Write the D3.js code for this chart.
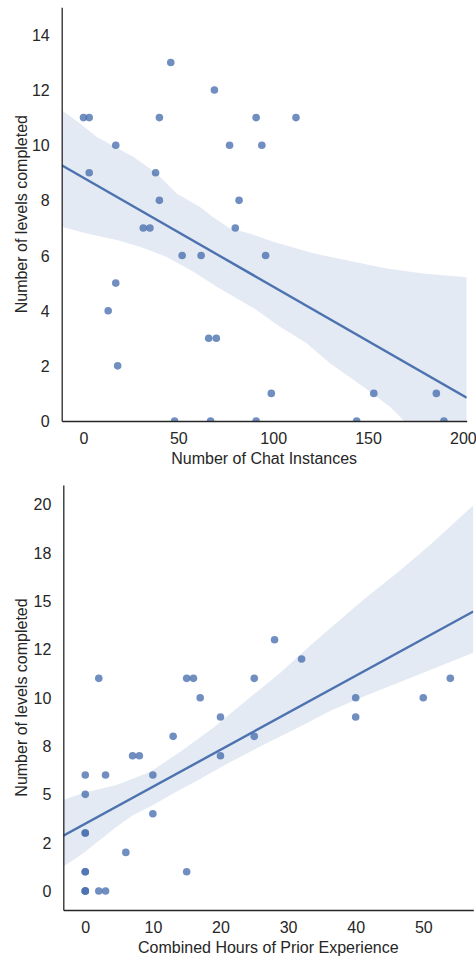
<!DOCTYPE html>
<html>
<head>
<meta charset="utf-8">
<script src="https://cdn.jsdelivr.net/npm/d3@7"></script>
<style>
  html, body { margin: 0; padding: 0; background: #fff; }
  svg { display: block; }
  text { font-family: "Liberation Sans", Arial, sans-serif; fill: #262626; }
</style>
</head>
<body>
<svg id="chart" width="476" height="958"></svg>
<script>
// ---------- DATA ----------
// Panel 1: Number of Chat Instances vs levels completed
const chatInstances = [0, 3, 46, 69, 40, 17, 77, 3, 38, 40, 82, 91, 112, 94, 31.5, 35, 80, 52, 62, 96, 17, 13, 18, 66, 70, 99, 153, 186, 48, 67, 91, 144, 190];
const levelsChat    = [11, 11, 13, 12, 11, 10, 10, 9, 9, 8, 8, 11, 11, 10, 7, 7, 7, 6, 6, 6, 5, 4, 2, 3, 3, 1, 1, 1, 0, 0, 0, 0, 0];

// Panel 2: Combined Hours of Prior Experience vs levels completed
const priorHours     = [2, 15, 16, 25, 54, 28, 32, 17, 40, 50, 20, 40, 13, 25, 7, 8, 20, 0, 3, 10, 0, 10, 0, 0, 6, 0, 0, 15, 0, 0, 0, 2, 3];
const levelsPrior    = [11, 11, 11, 11, 11, 13, 12, 10, 10, 10, 9, 9, 8, 8, 7, 7, 7, 6, 6, 6, 5, 4, 3, 3, 2, 1, 1, 1, 0, 0, 0, 0, 0];

// Bootstrap confidence bands: [x, y]
const chatBandUpper = [[-11.5, 11.27], [-1.8, 10.79], [7.0, 10.30], [26.2, 9.58], [38.6, 8.97], [49.1, 8.25], [61.4, 7.76], [68.2, 7.40], [77.2, 6.98], [87.7, 6.80], [100, 6.50], [121.1, 6.08], [138.7, 5.83], [159.8, 5.53], [179.1, 5.35], [202, 5.21]];
const chatBandLower = [[-11.5, 7.04], [1.7, 6.80], [17.5, 6.56], [29.8, 6.32], [43.8, 5.95], [57.9, 5.41], [70.2, 4.87], [82.5, 4.38], [91.3, 4.02], [103.6, 3.42], [117.6, 2.82], [129.9, 2.09], [147.5, 1.24], [161.5, 0.52], [168.5, 0.04], [185, -1.0], [202, -2.1]];
const priorBandUpper = [[-3.25, 4.71], [-0.3, 5.07], [4.64, 5.48], [9.57, 6.16], [14.0, 7.19], [18.9, 8.43], [23.9, 9.88], [28.8, 11.28], [33.7, 12.83], [41.1, 15.05], [46.1, 16.45], [51.0, 17.90], [57.4, 19.95]];
const priorBandLower = [[-3.25, 1.26], [-0.3, 1.95], [2.17, 2.64], [4.64, 3.33], [7.10, 3.93], [9.57, 4.36], [13.0, 5.05], [17.0, 5.79], [20.9, 6.57], [26.3, 7.55], [31.3, 8.42], [36.2, 9.31], [41.1, 10.05], [46.1, 10.75], [51.0, 11.43], [57.4, 12.32]];

// Tick values / labels
const chatXTicks   = [0, 50, 100, 150, 200];
const chatYTicks   = [0, 2, 4, 6, 8, 10, 12, 14];
const priorXTicks  = [0, 10, 20, 30, 40, 50];
const priorYTicks  = [0, 2.5, 5, 7.5, 10, 12.5, 15, 17.5, 20];
const priorYLabels = ["0", "2", "5", "8", "10", "12", "15", "18", "20"];

const yTitle = "Number of levels completed";
const chatXTitle = "Number of Chat Instances";
const priorXTitle = "Combined Hours of Prior Experience";

// ---------- STYLE / LAYOUT ----------
const BLUE = "#4c72b0";
const INK = "#262626";
const svg = d3.select("#chart");

function linReg(xs, ys) {
  const mx = d3.mean(xs), my = d3.mean(ys);
  let sxy = 0, sxx = 0;
  xs.forEach((x, i) => { sxy += (x - mx) * (ys[i] - my); sxx += (x - mx) * (x - mx); });
  const b = sxy / sxx;
  return { b, a: my - b * mx };
}

function panel(cfg) {
  const { id, left, right, top, bottom, xDomain, yDomain, xs, ys, upper, lower,
          xTicks, yTicks, yLabels, xTitle } = cfg;
  const x = d3.scaleLinear().domain(xDomain).range([left, right]);
  const y = d3.scaleLinear().domain(yDomain).range([bottom, top]);
  const g = svg.append("g");

  g.append("clipPath").attr("id", id).append("rect")
    .attr("x", left).attr("y", top).attr("width", right - left).attr("height", bottom - top);

  const plot = g.append("g").attr("clip-path", `url(#${id})`);

  // scatter
  plot.selectAll("circle").data(xs.map((v, i) => [v, ys[i]])).join("circle")
    .attr("cx", d => x(d[0])).attr("cy", d => y(d[1])).attr("r", 3.8)
    .attr("fill", BLUE).attr("fill-opacity", 0.8);

  // CI band
  const poly = upper.concat(lower.slice().reverse());
  plot.append("path")
    .attr("d", d3.line().x(d => x(d[0])).y(d => y(d[1]))(poly) + "Z")
    .attr("fill", BLUE).attr("fill-opacity", 0.15).attr("stroke", "none");

  // regression line
  const { a, b } = linReg(xs, ys);
  plot.append("path")
    .attr("d", d3.line().x(d => x(d)).y(d => y(a + b * d))(xDomain))
    .attr("fill", "none").attr("stroke", BLUE).attr("stroke-width", 2.4);

  // axes
  const xAxis = d3.axisBottom(x).tickValues(xTicks).tickSize(0).tickPadding(0)
    .tickFormat(d3.format("d"));
  const gx = g.append("g").attr("transform", `translate(0,${bottom})`).call(xAxis);
  gx.select(".domain").attr("stroke", INK).attr("stroke-width", 1.3);
  gx.selectAll(".tick text").attr("y", 22.8).attr("dy", null)
    .style("font-size", "16px").attr("fill", INK);

  const yAxis = d3.axisLeft(y).tickValues(yTicks).tickSize(0).tickPadding(12)
    .tickFormat((d, i) => yLabels ? yLabels[i] : d3.format("d")(d));
  const gy = g.append("g").attr("transform", `translate(${left},0)`).call(yAxis);
  gy.select(".domain").attr("stroke", INK).attr("stroke-width", 1.3);
  gy.selectAll(".tick text").attr("dy", "0.35em")
    .style("font-size", "16px").attr("fill", INK);
  g.selectAll(".tick line").remove();

  // titles
  g.append("text").attr("x", (left + right) / 2).attr("y", bottom + 42.5)
    .attr("text-anchor", "middle").style("font-size", "16px").text(xTitle);
  g.append("text")
    .attr("transform", `translate(27,${(top + bottom) / 2}) rotate(-90)`)
    .attr("text-anchor", "middle").style("font-size", "16px").text(yTitle);
}

panel({
  id: "clipTop", left: 61.7, right: 466.7, top: 7.3, bottom: 421,
  xDomain: [-11.5, 202], yDomain: [0, 15],
  xs: chatInstances, ys: levelsChat, upper: chatBandUpper, lower: chatBandLower,
  xTicks: chatXTicks, yTicks: chatYTicks, yLabels: null, xTitle: chatXTitle
});

panel({
  id: "clipBottom", left: 63.3, right: 473.3, top: 485, bottom: 910,
  xDomain: [-3.25, 57.4], yDomain: [-0.98, 21.0],
  xs: priorHours, ys: levelsPrior, upper: priorBandUpper, lower: priorBandLower,
  xTicks: priorXTicks, yTicks: priorYTicks, yLabels: priorYLabels, xTitle: priorXTitle
});
</script>
</body>
</html>
